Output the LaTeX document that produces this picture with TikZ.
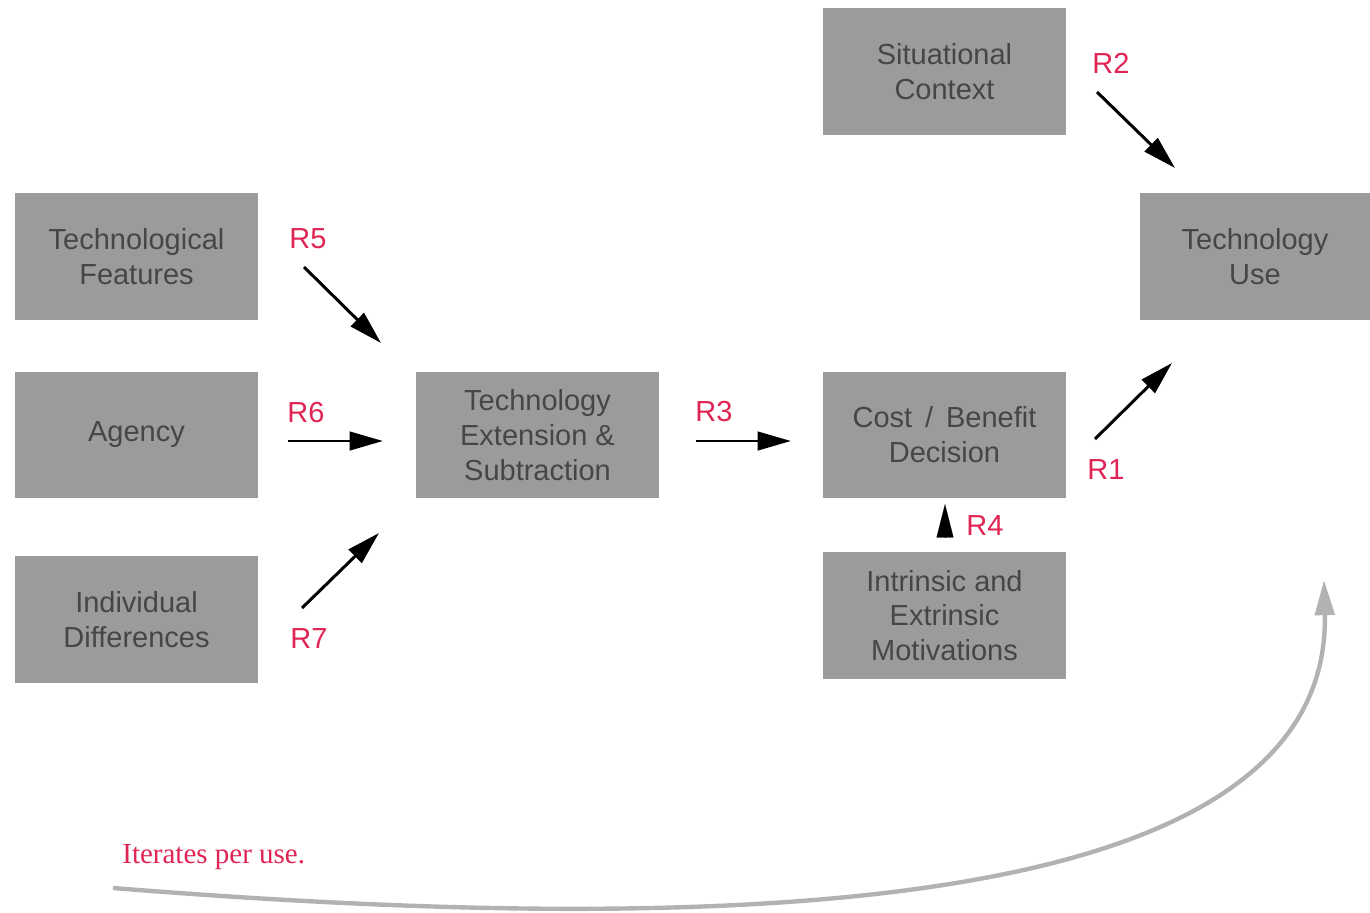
\documentclass[tikz,border=0pt]{standalone}
\usepackage{fontspec}
\setmainfont{Liberation Sans}
\newfontfamily\serifit{Liberation Serif}
\usetikzlibrary{arrows.meta}
\definecolor{boxgray}{RGB}{155,155,155}
\definecolor{boxtext}{RGB}{70,70,70}
\definecolor{labred}{RGB}{224,36,84}
\definecolor{loopgray}{RGB}{178,178,178}
\tikzset{
  factor/.style={rectangle, fill=boxgray, draw=none, inner sep=0pt,
    minimum width=4.86cm, minimum height=2.54cm, align=center,
    text=boxtext, font=\fontsize{16.5}{19.8}\selectfont},
  rlabel/.style={text=labred, font=\fontsize{16.5}{19.8}\selectfont, inner sep=0pt},
  link/.style={line width=1.7pt, -{Triangle[length=19pt,width=10.5pt]}},
  loop/.style={line width=2.5pt, draw=loopgray, -{Triangle[length=20pt,width=11pt]}}
}
\begin{document}
\begin{tikzpicture}[x=0.02cm,y=-0.02cm]
\useasboundingbox (0,0) rectangle (1370,913);
% boxes
\node[factor] (sit) at (944.5,71.5) {Situational\\Context};
\node[factor, minimum width=4.6cm] (use) at (1255,256.5) {Technology\\Use};
\node[factor] (feat) at (136.5,256.5) {Technological\\Features};
\node[factor] (agency) at (136.5,435) {Agency};
\node[factor] (indiv) at (136.5,619.5) {Individual\\Differences};
\node[factor] (ext) at (537.5,435) {Technology\\Extension \&\\Subtraction};
\node[factor] (cost) at (944.5,435) {Cost \,/\, Benefit\\Decision};
\node[factor] (motiv) at (944.5,615.5) {Intrinsic and\\Extrinsic\\Motivations};
% connector end points
\coordinate (r2s) at (1097,92);  \coordinate (r2e) at (1175,168);
\coordinate (r5s) at (304,267);  \coordinate (r5e) at (381,343);
\coordinate (r6s) at (288,441);  \coordinate (r6e) at (383,441);
\coordinate (r7s) at (302,608);  \coordinate (r7e) at (379,533);
\coordinate (r3s) at (696,441);  \coordinate (r3e) at (791,441);
\coordinate (r1s) at (1095,439); \coordinate (r1e) at (1172,363);
\coordinate (r4s) at (945,538);  \coordinate (r4e) at (945,504);
% arrows
\draw[link] (r2s) -- (r2e);
\draw[link] (r5s) -- (r5e);
\draw[link] (r6s) -- (r6e);
\draw[link] (r7s) -- (r7e);
\draw[link] (r3s) -- (r3e);
\draw[link] (r1s) -- (r1e);
\draw[line width=0.1pt, -{Triangle[length=19pt,width=9.6pt]}] (r4s) -- (r4e);
% labels
\node[rlabel] (l2) at (1111,63) {R2};
\node[rlabel] (l5) at (308,239) {R5};
\node[rlabel] (l6) at (306,413) {R6};
\node[rlabel] (l3) at (714,412) {R3};
\node[rlabel] (l1) at (1106,470) {R1};
\node[rlabel] (l4) at (985,526) {R4};
\node[rlabel] (l7) at (309,639) {R7};
% iteration loop
\coordinate (loopstart) at (113,888);
\coordinate (looptip) at (1324,580);
\draw[loop] (loopstart) .. controls (700,935) and (1332,925) .. (looptip);
\node[text=labred, font=\serifit\fontsize{16.5}{19.8}\selectfont, anchor=west, inner sep=0pt] (iter) at (122,857) {Iterates per use.};
\end{tikzpicture}
\end{document}
